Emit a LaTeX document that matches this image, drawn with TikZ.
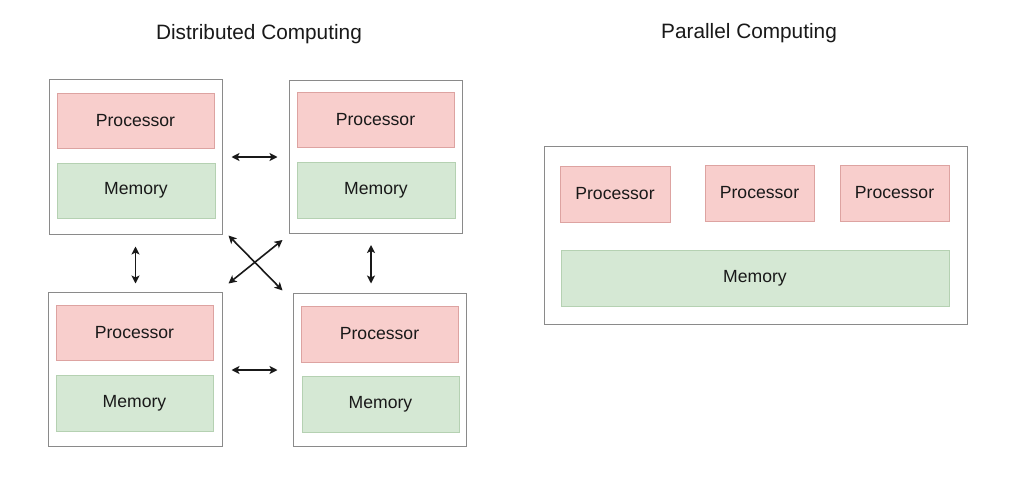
\documentclass[tikz,border=0pt]{standalone}
\usepackage{fontspec}
\setmainfont{Liberation Sans}
\usetikzlibrary{arrows.meta}
\definecolor{procFill}{HTML}{F8CECC}
\definecolor{procLine}{HTML}{DDA3A1}
\definecolor{memFill}{HTML}{D5E8D4}
\definecolor{memLine}{HTML}{B5D1B2}
\definecolor{boxLine}{HTML}{8A8A8A}
\begin{document}
\begin{tikzpicture}[>={Stealth[length=8pt, width=8pt, inset=2pt]}, x=1pt, y=-1pt]
	
	% Styles for the boxes
	\tikzset{
		outerBox/.style={draw=boxLine, line width=1pt, fill=white, inner sep=0pt},
		procBox/.style={draw=procLine, fill=procFill, line width=0.8pt, inner sep=0pt, font=\fontsize{17.6}{20}\selectfont, text=black!90},
		memBox/.style={draw=memLine, fill=memFill, line width=0.8pt, inner sep=0pt, font=\fontsize{17.6}{20}\selectfont, text=black!90},
		titleText/.style={font=\fontsize{20.8}{24}\selectfont, text=black!90},
		link/.style={<->, line width=1.6pt, black!90}
	}
	
	% Page size (1024 x 484)
	\fill[white] (0,0) rectangle (1024,484);
	\useasboundingbox (0,0) rectangle (1024,484);
	
	% Titles
	\node[titleText] (tDist) at (259,34) {Distributed Computing};
	\node[titleText] (tPar) at (749,33) {Parallel Computing};
	
	% ----- Distributed: four machines -----
	\node[outerBox, minimum width=173, minimum height=154] (tl) at (135.5,157) {};
	\node[outerBox, minimum width=173, minimum height=153] (tr) at (375.5,157) {};
	\node[outerBox, minimum width=174, minimum height=154] (bl) at (135,369) {};
	\node[outerBox, minimum width=173, minimum height=153] (br) at (379.5,369.5) {};
	
	% Processor and memory inside each machine
	\node[procBox, minimum width=157, minimum height=55] (tlProc) at (135.5,120.5) {Processor};
	\node[memBox, minimum width=158, minimum height=55] (tlMem) at (136,190.5) {Memory};
	\node[procBox, minimum width=157, minimum height=55] (trProc) at (375.5,119.5) {Processor};
	\node[memBox, minimum width=158, minimum height=56] (trMem) at (376,190) {Memory};
	\node[procBox, minimum width=157, minimum height=55] (blProc) at (134.5,332.5) {Processor};
	\node[memBox, minimum width=157, minimum height=56] (blMem) at (134.5,403) {Memory};
	\node[procBox, minimum width=157, minimum height=56] (brProc) at (379.5,334) {Processor};
	\node[memBox, minimum width=157, minimum height=56] (brMem) at (380.5,404) {Memory};
	
	% Links between the machines
	\draw[link, shorten <=9pt, shorten >=11pt] (tl) -- (tr);
	\draw[link, shorten <=9pt, shorten >=15pt] ([yshift=-1pt]bl.east) -- ([yshift=-1pt]bl.east -| br.west);
	\draw[link, shorten <=12pt, shorten >=8pt] (tl.south) -- (tl.south |- bl.north);
	\draw[link, shorten <=11pt, shorten >=9pt] ([xshift=-4.5pt]tr.south) -- ([xshift=-4.5pt]tr.south |- br.north);
	
	% Crossed links
	\draw[link] ([xshift=6pt, yshift=-1pt]tl.south east) -- ([xshift=-10pt, yshift=2pt]br.north west);
	\draw[link] ([xshift=-6pt, yshift=-6pt]tr.south west) -- ([xshift=6pt, yshift=8pt]bl.north east);
	
	% ----- Parallel: one machine, shared memory -----
	\node[outerBox, minimum width=423, minimum height=178] (par) at (756,235) {};
	\node[procBox, minimum width=110, minimum height=56] (pA) at (615,194) {Processor};
	\node[procBox, minimum width=109, minimum height=56] (pB) at (759.5,193) {Processor};
	\node[procBox, minimum width=109, minimum height=56] (pC) at (894.5,193) {Processor};
	\node[memBox, minimum width=388, minimum height=56] (pMem) at (755,278) {Memory};
	
\end{tikzpicture}
\end{document}
